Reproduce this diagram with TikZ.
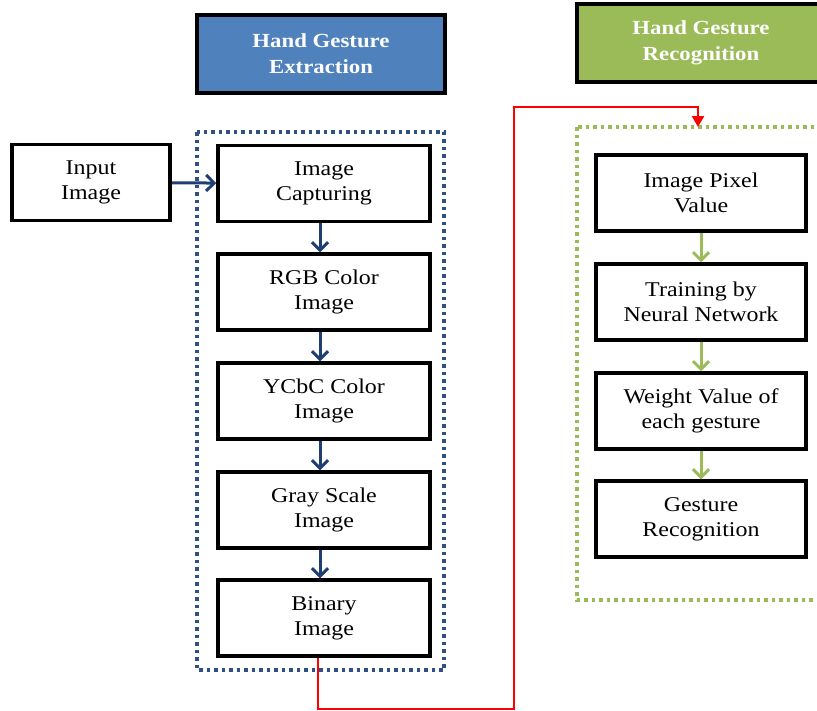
\documentclass[tikz,border=0pt]{standalone}
\usepackage{fontspec}
\setmainfont{Liberation Serif}[FakeStretch=1.14]
\usetikzlibrary{arrows.meta, positioning}
\definecolor{headblue}{HTML}{4F81BD}
\definecolor{headgreen}{HTML}{9BBB59}
\definecolor{frameblue}{HTML}{2E5084}
\definecolor{arrowblue}{HTML}{1F3F73}

\tikzset{
  stagebox/.style={draw, line width=3.5pt, fill=white, minimum height=76pt,
    align=center, inner sep=0pt, font=\fontsize{21}{25}\selectfont},
  headbox/.style={draw, line width=3.5pt, minimum width=248pt, minimum height=78pt,
    align=center, inner sep=0pt, text=white, font=\bfseries\fontsize{20}{26}\selectfont},
  dotframe/.style={line width=3.5pt, dash pattern=on 3.5pt off 4pt},
  bluearrow/.style={arrowblue, line width=3pt, -{Straight Barb[length=8pt,width=16pt]}},
  greenarrow/.style={headgreen, line width=3pt, -{Straight Barb[length=8pt,width=16pt]}},
}

\begin{document}
\begin{tikzpicture}[x=1pt,y=-1pt]
\useasboundingbox (0,0) rectangle (817,710);

% Headings
\node[headbox, fill=headblue] (headA) at (321,54) {Hand Gesture\\Extraction};
\node[headbox, fill=headgreen] (headB) at (701,43) {Hand Gesture\\Recognition};

% Dotted frames
\draw[dotframe, frameblue] (197,132) rectangle (444,670);
\draw[dotframe, headgreen] (577,127) rectangle (830,600);

% Extraction stages
\node[stagebox, minimum width=158pt] (input) at (91,182.5) {Input\\Image};
\node[stagebox, minimum width=212pt] (capture) at (324,183.5) {Image\\Capturing};
\node[stagebox, minimum width=212pt] (rgb) at (324,292) {RGB Color\\Image};
\node[stagebox, minimum width=212pt] (ycbc) at (324,401) {YCbC Color\\Image};
\node[stagebox, minimum width=212pt] (gray) at (324,510) {Gray Scale\\Image};
\node[stagebox, minimum width=212pt] (binary) at (324,618) {Binary\\Image};

% Recognition stages
\node[stagebox, minimum width=210pt] (pixel) at (701,193) {Image Pixel\\Value};
\node[stagebox, minimum width=210pt] (train) at (701,302) {Training by\\Neural Network};
\node[stagebox, minimum width=210pt] (weight) at (701,411) {Weight Value of\\each gesture};
\node[stagebox, minimum width=210pt] (recog) at (701,519) {Gesture\\Recognition};

% Arrows
\draw[bluearrow] (input) -- (capture);
\draw[bluearrow] (capture.south -| 320,0) -- (rgb.north -| 320,0);
\draw[bluearrow] (rgb.south -| 320,0) -- (ycbc.north -| 320,0);
\draw[bluearrow] (ycbc.south -| 320,0) -- (gray.north -| 320,0);
\draw[bluearrow] (gray.south -| 320,0) -- (binary.north -| 320,0);
\draw[greenarrow] (pixel) -- (train);
\draw[greenarrow] (train) -- (weight);
\draw[greenarrow] (weight) -- (recog);

% Link between the two parts
\coordinate (rtop) at (698,127);
\draw[red, line width=2.5pt, -{Triangle[length=11pt,width=12pt]}]
  (binary.south -| 318,0) -- ++(0,51) -| (514,107) -| (rtop);
\end{tikzpicture}
\end{document}
